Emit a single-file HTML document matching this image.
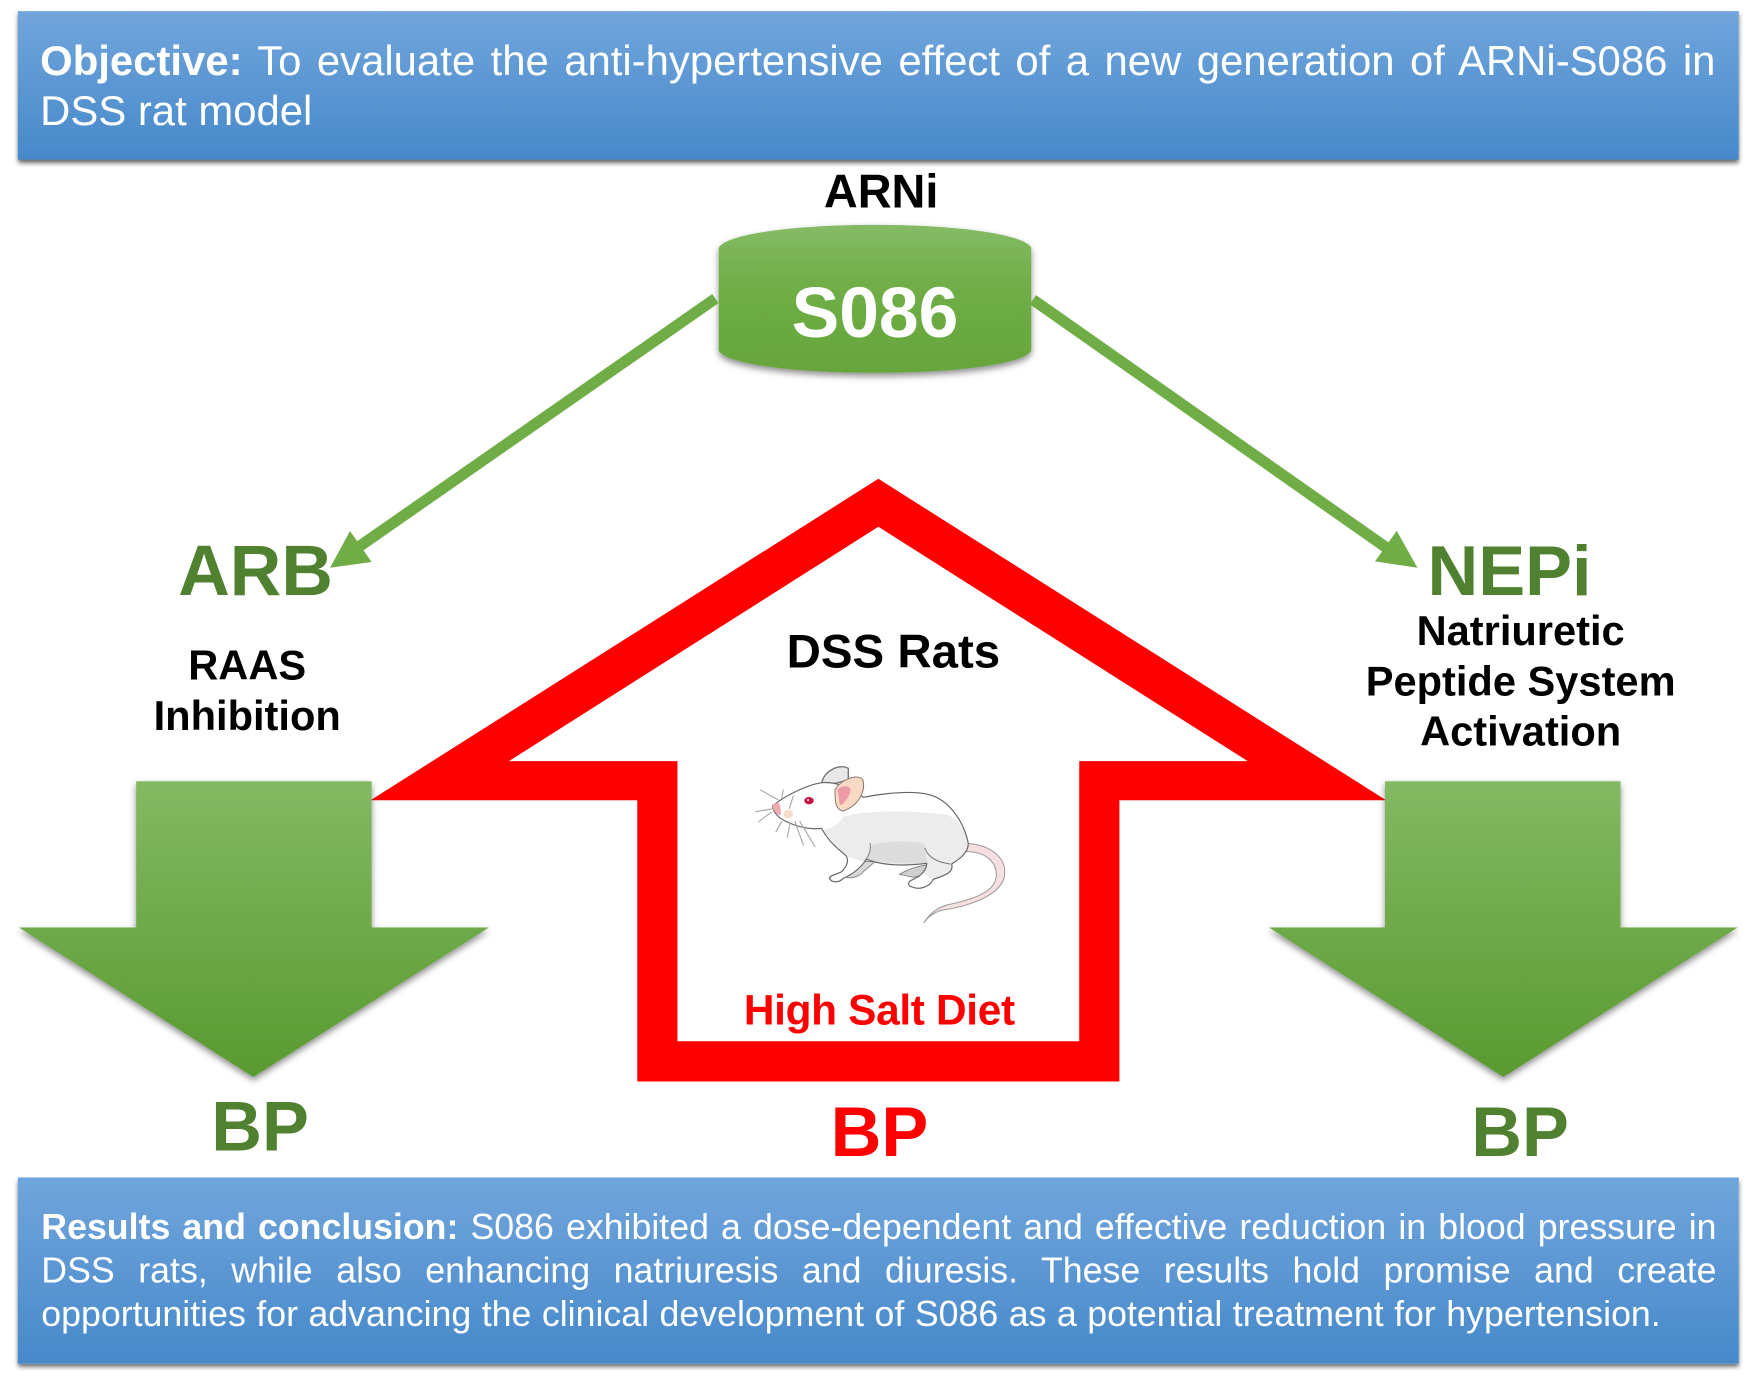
<!DOCTYPE html>
<html><head><meta charset="utf-8">
<style>
html,body{margin:0;padding:0;background:#fff;width:1750px;height:1381px;overflow:hidden}
#w{position:absolute;left:0;top:0;width:1568px;height:1237.4px;transform:scale(1.11607);transform-origin:0 0;font-family:"Liberation Sans",Arial,sans-serif}
.box{position:absolute;left:16px;width:1542px;background:linear-gradient(#71a5dc,#4689ca);box-shadow:0 3px 4px rgba(0,0,0,.6)}
.ln{position:absolute;color:#fff;white-space:nowrap;text-align:justify;text-align-last:justify}
svg{position:absolute;left:0;top:0}
text{font-family:"Liberation Sans",Arial,sans-serif;font-weight:bold;text-anchor:middle}
</style></head><body>
<div id="w">
<div class="box" style="top:10px;height:133px"></div>
<div class="box" style="top:1055px;height:167px"></div>
<div class="ln" style="left:36px;width:1501px;top:31px;line-height:46px;font-size:37.5px"><b>Objective:</b> To evaluate the anti-hypertensive effect of a new generation of ARNi-S086 in</div>
<div class="ln" style="left:36px;top:76px;line-height:46px;font-size:37.5px;text-align-last:left">DSS rat model</div>
<div class="ln" style="left:37px;width:1501px;top:1080px;line-height:39px;font-size:32px"><b>Results and conclusion:</b> S086 exhibited a dose-dependent and effective reduction in blood pressure in</div>
<div class="ln" style="left:37px;width:1501px;top:1119px;line-height:39px;font-size:32px">DSS rats, while also enhancing natriuresis and diuresis. These results hold promise and create</div>
<div class="ln" style="left:37px;width:1451px;top:1158px;line-height:39px;font-size:32px">opportunities for advancing the clinical development of S086 as a potential treatment for hypertension.</div>
<svg width="1568" height="1238" viewBox="0 0 1568 1238">
<defs>
<linearGradient id="g" x1="0" y1="0" x2="0" y2="1"><stop offset="0" stop-color="#83b962"/><stop offset="1" stop-color="#599a30"/></linearGradient>
<linearGradient id="g2" x1="0" y1="0" x2="0" y2="1"><stop offset="0" stop-color="#85bb66"/><stop offset=".4" stop-color="#70ae47"/><stop offset="1" stop-color="#66a53b"/></linearGradient>
<filter id="s" x="-10%" y="-10%" width="120%" height="125%"><feDropShadow dx="0" dy="3" stdDeviation="3" flood-color="#000" flood-opacity=".45"/></filter>
<clipPath id="bc"><path id="bp" d="M218 197C260 165 320 135 365 128C400 125 440 135 490 172C550 160 640 150 690 165C745 180 790 240 805 310C805 340 775 360 755 372C762 395 740 405 700 418C690 440 660 450 640 442C620 438 622 425 640 418C670 405 680 385 680 370C620 378 550 378 500 358C480 385 455 405 430 415C415 430 395 428 388 415C390 405 415 402 425 395C450 370 445 350 430 340C405 320 380 295 365 265C330 270 290 260 260 245C235 235 218 215 218 197Z"/></clipPath>
</defs>
<!-- cylinder -->
<path filter="url(#s)" fill="url(#g2)" d="M644 222C650 210 710 201.5 784 201.5S918 210 924 222V314C918 326 858 334 784 334S650 326 644 314Z"/>
<!-- connector arrows -->
<g stroke="#70ad47" stroke-width="10" fill="#70ad47">
<line x1="641" y1="267.5" x2="320" y2="491"/>
<line x1="925.5" y1="268.5" x2="1244" y2="492"/>
</g>
<polygon fill="#70ad47" points="295.7,508.7 313.6,475.8 333,503.5"/>
<polygon fill="#70ad47" points="1270,508.7 1251.5,475.6 1232,503"/>
<!-- red house -->
<path fill="#ff0000" fill-rule="evenodd" d="M787 429L1242 717H1003V969H571V717H332ZM787 472L456 682H607V933H967V682H1118Z"/>
<!-- green arrows -->
<polygon fill="url(#g)" filter="url(#s)" points="122,700 333,700 333,831 438,831 227,965 17,831 122,831"/>
<polygon fill="url(#g)" filter="url(#s)" points="1241,700 1452,700 1452,831 1557,831 1347,965 1137,831 1241,831"/>
<!-- mouse -->
<g transform="scale(.896) translate(700 740) scale(.3333)" stroke-linejoin="round" stroke-linecap="round">
<path d="M800 310C880 315 925 360 912 415C895 470 800 500 730 510C705 515 685 530 672 548C690 520 710 505 740 495C810 480 880 460 888 415C895 370 860 335 800 335Z" fill="#f5dfe0" stroke="#9a9a9a" stroke-width="3"/>
<path d="M365 128C375 90 420 70 445 85L445 120L385 135Z" fill="#e8e8e8" stroke="#777" stroke-width="4"/>
<path d="M480 365L435 410C450 418 480 410 490 395L525 365Z" fill="#d8d8d8" stroke="#888" stroke-width="3"/>
<path d="M598 403C630 385 670 372 700 375L705 395L640 412Z" fill="#cfcfcf" stroke="#888" stroke-width="3"/>
<path d="M218 197C260 165 320 135 365 128C400 125 440 135 490 172C550 160 640 150 690 165C745 180 790 240 805 310C805 340 775 360 755 372C762 395 740 405 700 418C690 440 660 450 640 442C620 438 622 425 640 418C670 405 680 385 680 370C620 378 550 378 500 358C480 385 455 405 430 415C415 430 395 428 388 415C390 405 415 402 425 395C450 370 445 350 430 340C405 320 380 295 365 265C330 270 290 260 260 245C235 235 218 215 218 197Z" fill="#fff"/>
<g clip-path="url(#bc)">
<path fill="#ececec" d="M430 230C520 205 660 215 745 225C790 250 810 300 810 345L770 380L700 420L640 380L500 370L430 345L370 270C395 265 420 250 430 230Z"/>
<path fill="#dcdcdc" d="M515 315C570 300 640 302 675 312C672 335 680 355 685 375L500 362C508 345 515 330 515 315Z"/>
<ellipse cx="350" cy="225" rx="42" ry="30" fill="#fff"/>
</g>
<path d="M218 197C260 165 320 135 365 128C400 125 440 135 490 172C550 160 640 150 690 165C745 180 790 240 805 310C805 340 775 360 755 372C762 395 740 405 700 418C690 440 660 450 640 442C620 438 622 425 640 418C670 405 680 385 680 370C620 378 550 378 500 358C480 385 455 405 430 415C415 430 395 428 388 415C390 405 415 402 425 395C450 370 445 350 430 340C405 320 380 295 365 265C330 270 290 260 260 245C235 235 218 215 218 197Z" fill="none" stroke="#666" stroke-width="3.5"/>
<path d="M675 325C682 345 700 365 750 372M510 310C515 330 505 350 495 362" fill="none" stroke="#777" stroke-width="3"/>
<path fill="#f9d9c4" stroke="#8a7a70" stroke-width="3" d="M405 150C420 120 470 100 488 118C498 150 480 195 430 213C405 210 405 180 405 150Z"/>
<path fill="#ec9aa6" d="M412 150C425 135 450 135 452 150C450 165 440 180 425 195C415 195 420 175 412 150Z"/>
<path d="M218 197C222 190 230 188 238 190C242 205 245 220 240 226C228 222 218 210 218 197Z" fill="#f2a9b0"/>
<ellipse cx="265" cy="222" rx="14" ry="13" fill="#f7dcc8"/>
<ellipse cx="327" cy="182" rx="14" ry="11" fill="#c8103e"/>
<circle cx="324" cy="180" r="3" fill="#fff"/>
<g stroke="#aaa" stroke-width="3.5" fill="none">
<path d="M235 180L182 150M215 207L167 215M214 217L176 245M245 245L228 275M270 250L262 292M285 245L310 315M300 245L345 320M245 175L250 150M268 205L280 168"/>
</g>
</g>
<!-- labels -->
<text x="789.5" y="186" font-size="42" fill="#000">ARNi</text>
<text x="784" y="302" font-size="64" fill="#fff">S086</text>
<text x="229" y="533" font-size="64" fill="#4f8130">ARB</text>
<text x="1352.5" y="533" font-size="63" fill="#4f8130">NEPi</text>
<text x="221.5" y="609" font-size="37.3" fill="#000">RAAS</text>
<text x="221.5" y="654" font-size="37.3" fill="#000">Inhibition</text>
<text x="1362.5" y="578" font-size="37.3" fill="#000">Natriuretic</text>
<text x="1362.5" y="623" font-size="37.3" fill="#000">Peptide System</text>
<text x="1362.5" y="668" font-size="37.3" fill="#000">Activation</text>
<text x="800.5" y="598" font-size="42.5" fill="#000">DSS Rats</text>
<text x="788" y="918" font-size="38" fill="#ff0000" textLength="243">High Salt Diet</text>
<text x="233" y="1031" font-size="63" fill="#4f8130">BP</text>
<text x="788" y="1036" font-size="63" fill="#ff0000">BP</text>
<text x="1362" y="1036" font-size="63" fill="#4f8130">BP</text>
</svg>
</div>
</body></html>
